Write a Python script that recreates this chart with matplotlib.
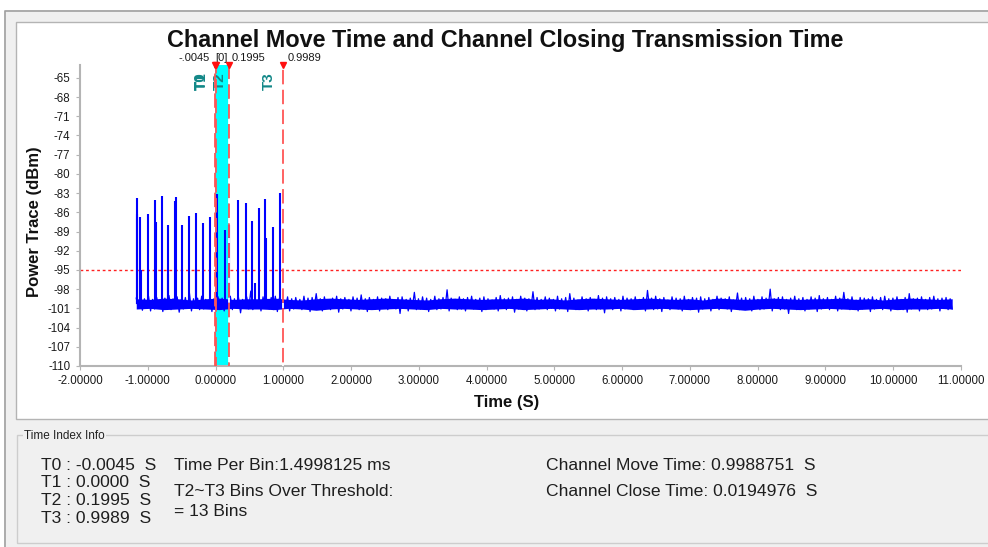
import matplotlib.pyplot as plt
import numpy as np
from matplotlib.patches import Rectangle
from matplotlib.lines import Line2D

plt.rcParams['font.family'] = ['Liberation Sans', 'DejaVu Sans']

# ---- data ----
trace_start, trace_end = -1.17, 10.87
# noise floor, in tenths of dB below -99 dBm (hand read / estimated)
floor_tenths = [
    4, 20, 2, 23, 5, 19, 1, 24, 6, 21, 3, 18, 7, 25, 4, 20, 0, 22, 5, 19, 2, 26, 6, 21, 3, 20, -4, 24, 5, 19, 4, 22, 1, 21, 6, 18, 3, 25, 5, 20,
    2, 21, 4, 24, 7, 19, 1, 22, 5, 20, 3, 27, 6, 19, 2, 21, -7, 22, 4, 20, 5, 24, 2, 19, 6, 21, 3, 22, 1, 25, 4, 20, 7, 18, 2, 24, 5, 21, 3, 19,
    6, 22, 1, 20, 4, 25, 3, 19, -3, 21, 5, 24, 2, 20, 7, 22, 4, 18, 1, 26, 5, 21, 3, 19, 6, 24, 2, 20, 4, 22, -1, 21, 5, 25, 3, 19, 6, 21, 2, 24,
    4, 20, 5, 22, 1, 19, 7, 21, 3, 28, 2, 20, 6, 24, 4, 19, -5, 22, 5, 21, 2, 20, 4, 25, 6, 19, 1, 22, 5, 21, 3, 20, -9, 24, 4, 19, 6, 22, 2, 21,
    5, 24, 3, 20, 1, 21, 6, 19, 4, 25, 2, 22, 5, 20, 7, 21, 3, 24, 0, 19, 5, 22, 4, 20, 2, 26, 6, 21, 1, 19, 4, 24, 5, 20, -6, 22, 3, 21, 6, 19,
    2, 22, 4, 20, 6, 24, 1, 21, 5, 19, 3, 25, -3, 20, 4, 22, 7, 21, 2, 19, 5, 24, 3, 20, 6, 22, 0, 21, 4, 27, 2, 19, 5, 22, 3, 20, 6, 24, 1, 21,
    4, 19, 5, 22, 2, 21, 6, 20, 3, 24, -8, 19, 4, 22, 1, 21, 5, 25, 3, 20, 7, 22, 2, 19, 4, 21, 5, 24, 1, 20, 6, 22, 3, 19, 4, 26, 2, 21, 5, 20,
    3, 24, 6, 20, 1, 22, 4, 19, 5, 21, 2, 25, 7, 20, -4, 22, 4, 21, 3, 19, 5, 24, 1, 20, 6, 22, 2, 21, 4, 19, -10, 24, 5, 20, 3, 22, 2, 21, 6, 28,
    4, 20, 1, 22, 5, 19, 3, 24, 6, 21, 2, 20, 4, 25, 0, 21, 5, 19, 3, 22, 6, 20, 1, 24, 4, 21, -5, 19, 5, 22, 2, 20, 7, 24, 3, 21, 4, 19, 5, 25,
    2, 21, 6, 20, 3, 22, 1, 19, 5, 24, 4, 21, 2, 20, 6, 22, 3, 26, -3, 21, 5, 19, 4, 24, 2, 20, 6, 22, 3, 21, 1, 19, 5, 24, 4, 20, 3, 22, 5, 21,
]
# dense core of the noise band (tenths of dB below -99 dBm)
core_hi = [5, 6, 4, 5, 7, 5, 4, 6, 5, 5, 4, 6, 7, 5, 4, 5, 6, 5, 4, 5, 6, 7, 5, 4, 5, 6, 5, 5, 4, 6,
           5, 7, 5, 4, 5, 6, 5, 4, 5, 6, 5, 7, 4, 5, 6, 5, 4, 5, 6, 5, 5, 4, 6, 5, 7, 5, 4, 5, 6, 5]
core_lo = [21, 20, 22, 21, 20, 21, 22, 20, 21, 21, 22, 20, 21, 23, 21, 20, 21, 22, 21, 20, 21, 22, 20, 21, 21, 22, 21, 20, 22, 21,
           20, 21, 22, 21, 21, 20, 22, 21, 20, 21, 22, 21, 20, 21, 23, 21, 20, 21, 22, 21, 20, 21, 22, 21, 20, 22, 21, 21, 20, 21]
spike_t = [-1.163, -1.153, -1.109, -1.105, -0.995, -0.892, -0.885, -0.793, -0.695, -0.700,
           -0.590, -0.595, -0.490, -0.390, -0.290, -0.295, -0.178, -0.085, 0.028, 0.137,
           0.205, 0.329, 0.447, 0.540, 0.575, 0.640, 0.733, 0.740, 0.851, 0.954]
spike_peak = [-86.2, -83.8, -86.8, -95.0, -86.3, -84.1, -87.5, -83.5, -88.0, -95.7,
              -83.6, -84.3, -88.0, -86.6, -86.1, -94.8, -87.6, -86.8, -83.2, -88.8,
              -88.0, -84.1, -84.5, -87.4, -97.1, -85.4, -84.0, -90.0, -88.3, -83.0]
floor_base = -100.3
threshold = -95
marker_names = ['T0', 'T1', 'T2', 'T3']
marker_t = [-0.0045, 0.0, 0.1995, 0.9989]
marker_tags = ['-.0045', '[0]', '0.1995', '0.9989']
x_ticks = np.arange(-2, 12, 1)
y_ticks = np.arange(-110, -64, 3)
info_values = ['-0.0045', '0.0000', '0.1995', '0.9989']
time_per_bin = '1.4998125'
bins_over = 13
move_time = '0.9988751'
close_time = '0.0194976'

W, H = 988, 547


def fx(x):
    return x / W


def fy(y):
    return 1 - y / H


fig = plt.figure(figsize=(W / 100, H / 100), dpi=100, facecolor='#f0f0f0')

# window chrome
fig.add_artist(Rectangle((0, fy(10)), 1, 10 / H, transform=fig.transFigure,
                         facecolor='white', lw=0, zorder=0))
fig.add_artist(Rectangle((0, 0), 4 / W, 1, transform=fig.transFigure,
                         facecolor='white', lw=0, zorder=0))
fig.add_artist(Line2D([fx(4.5), fx(4.5), 1], [0, fy(10.5), fy(10.5)],
                      transform=fig.transFigure, color='#a0a0a0', lw=1.2))
fig.add_artist(Rectangle((fx(16), fy(419)), 1, (419 - 21.5) / H, transform=fig.transFigure,
                         facecolor='white', edgecolor='#b4b4b4', lw=1, zorder=0))
fig.add_artist(Rectangle((fx(16.5), fy(543)), 1, (543 - 435) / H, transform=fig.transFigure,
                         fill=False, edgecolor='#cdcdcd', lw=1, zorder=0))
fig.text(fx(24), fy(436), 'Time Index Info', fontsize=8.5, color='#222222', va='center',
         bbox=dict(facecolor='#f0f0f0', edgecolor='none', pad=1))

ax = fig.add_axes([fx(80), fy(366), fx(961) - fx(80), (366 - 65) / H])

tc = np.linspace(trace_start, trace_end, len(core_hi))
ax.fill_between(tc, -99 - np.array(core_hi) / 10, -99 - np.array(core_lo) / 10,
                color='#0000ff', lw=0, zorder=3)
t = np.linspace(trace_start, trace_end, len(floor_tenths))
ax.plot(t, -99 - np.array(floor_tenths) / 10, color='#0000ff', lw=0.9, zorder=3)
ax.vlines(spike_t, floor_base, spike_peak, color='#0000ff', lw=1.5, zorder=3)

ax.axhline(threshold, color='#ff2020', lw=1, ls=(0, (2, 2)), zorder=1)
ax.axvspan(marker_t[0], marker_t[2], color='#00ffff', lw=0, zorder=2)

for i, mt in enumerate(marker_t):
    gap = 'white' if i >= 2 else None
    ax.axvline(mt, color='#ff5555', lw=1.3, ls=(i * 3, (8, 3)), gapcolor=gap, zorder=4)
ax.plot(marker_t, [1] * len(marker_t), transform=ax.get_xaxis_transform(), marker='v',
        color='#ff1010', ms=5, ls='none', clip_on=False, zorder=5)

tag_style = [(-4, 'right'), (0, 'left'), (1.5, 'left'), (3, 'left')]
for mt, tag, (dx, ha) in zip(marker_t, marker_tags, tag_style):
    ax.annotate(tag, (mt, 1), xycoords=('data', 'axes fraction'), xytext=(dx, 5),
                textcoords='offset points', ha=ha, va='center', fontsize=8, color='#1a1a1a')

name_dx = [-10, -10, -6.5, -10]
for mt, name, dx in zip(marker_t, marker_names, name_dx):
    ax.annotate(name, (mt, 1), xycoords=('data', 'axes fraction'), xytext=(dx, -11.5),
                textcoords='offset points', ha='center', va='center', rotation=90,
                fontsize=11, fontweight='bold', color='#138888')

ax.set_xlim(-2, 11)
ax.set_ylim(-110, -63)
ax.set_xticks(x_ticks)
ax.set_xticklabels([f'{v:.5f}' for v in x_ticks])
ax.set_yticks(y_ticks)
ax.set_yticklabels([f'{v:d}' for v in y_ticks])
ax.tick_params(labelsize=8.3, length=3, color='#b4b4b4', labelcolor='#1a1a1a')
ax.tick_params(axis='x', pad=3.5)
ax.tick_params(axis='y', pad=4)
for s in ['top', 'right']:
    ax.spines[s].set_visible(False)
for s in ['left', 'bottom']:
    ax.spines[s].set_color('#b4b4b4')
    ax.spines[s].set_linewidth(1.5)

fig.text(fx(505), fy(41), 'Channel Move Time and Channel Closing Transmission Time',
         ha='center', va='center', fontsize=16.8, fontweight='bold', color='#111111')
fig.text(fx(35), fy(222), 'Power Trace (dBm)', rotation=90, ha='center', va='center',
         fontsize=12, fontweight='bold', color='#111111')
fig.text(fx(507), fy(402), 'Time (S)', ha='center', va='center',
         fontsize=12, fontweight='bold', color='#111111')

# info panel
txt = dict(fontsize=12.6, color='#1e1e1e', va='center')
for i, (name, val) in enumerate(zip(marker_names, info_values)):
    fig.text(fx(41), fy(465 + i * 17.8), f'{name} : {val}  S', **txt)
fig.text(fx(174), fy(465), f'Time Per Bin:{time_per_bin} ms', **txt)
fig.text(fx(174), fy(492), 'T2~T3 Bins Over Threshold:', **txt)
fig.text(fx(174), fy(511), f'= {bins_over} Bins', **txt)
fig.text(fx(546), fy(466), f'Channel Move Time: {move_time}  S', **txt)
fig.text(fx(546), fy(492), f'Channel Close Time: {close_time}  S', **txt)

fig.savefig('out.png', dpi=100, facecolor=fig.get_facecolor())
